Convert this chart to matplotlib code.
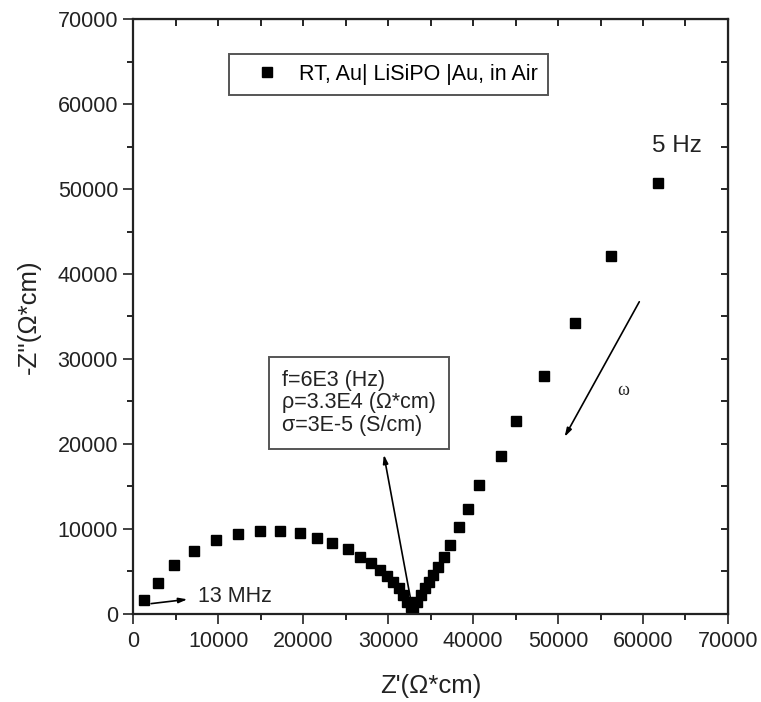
import matplotlib
matplotlib.use("Agg")
import matplotlib.pyplot as plt
from matplotlib.ticker import MultipleLocator

plt.rcParams['font.family'] = ['Liberation Sans', 'DejaVu Sans']

# Nyquist data (Z' and -Z'' in ohm*cm)
z_real = [1200, 2850, 4760, 7180, 9700, 12290, 14880, 17300, 19620, 21660,
          23420, 25240, 26690, 27940, 29040, 29900, 30600, 31240, 31780, 32250,
          32690, 32950, 33360, 33830, 34340, 34810, 35310, 35900, 36540, 37280,
          38300, 39430, 40730, 43240, 45010, 48300, 51990, 56190, 61720]
z_imag = [1590, 3680, 5730, 7410, 8670, 9450, 9760, 9760, 9470, 8910,
          8390, 7650, 6740, 5960, 5180, 4470, 3800, 3020, 2240, 1450,
          860, 700, 1450, 2240, 3020, 3800, 4590, 5560, 6710, 8120,
          10270, 12350, 15180, 18590, 22740, 28040, 34270, 42120, 50740]

legend_label = "RT, Au| LiSiPO |Au, in Air"
box_text = "f=6E3 (Hz)\n\u03c1=3.3E4 (\u03a9*cm)\n\u03c3=3E-5 (S/cm)"

fig = plt.figure(figsize=(7.61, 7.02), dpi=100)
ax = fig.add_axes([0.1752, 0.1254, 0.7814, 0.8475])

ax.plot(z_real, z_imag, 's', color='black', markersize=7, linestyle='none',
        label=legend_label)

ax.set_xlim(0, 70000)
ax.set_ylim(0, 70000)
ax.xaxis.set_major_locator(MultipleLocator(10000))
ax.yaxis.set_major_locator(MultipleLocator(10000))
ax.xaxis.set_minor_locator(MultipleLocator(5000))
ax.yaxis.set_minor_locator(MultipleLocator(5000))
ax.tick_params(which='major', direction='out', length=7, width=1.2,
               labelsize=15.5, colors='#222222')
ax.tick_params(which='minor', direction='out', length=4, width=1.2)
ax.tick_params(axis='x', pad=5)
ax.tick_params(axis='y', pad=4)
for s in ax.spines.values():
    s.set_linewidth(1.6)
    s.set_color('#222222')

# inward ticks on right and top
sec_y = ax.secondary_yaxis('right')
sec_y.yaxis.set_major_locator(MultipleLocator(5000))
sec_y.tick_params(direction='in', length=5, width=1.2, labelright=False)
sec_x = ax.secondary_xaxis('top')
sec_x.xaxis.set_major_locator(MultipleLocator(5000))
sec_x.tick_params(direction='in', length=5, width=1.2, labeltop=False)

ax.set_xlabel("Z'(\u03a9*cm)", fontsize=18.5, labelpad=16, color='#222222')
ax.set_ylabel("-Z''(\u03a9*cm)", fontsize=18.5, labelpad=12, color='#222222')

leg = ax.legend(loc='upper left', bbox_to_anchor=(0.1614, 0.941),
                borderaxespad=0, fontsize=15.5, fancybox=False,
                edgecolor='#555555', framealpha=1, handlelength=2.6,
                handletextpad=0.2, borderpad=0.45)
leg.get_frame().set_linewidth(1.4)

# annotation box with arrow to the minimum
ax.text(17540, 24860, box_text, fontsize=15.5, va='center', ha='left',
        linespacing=1.1, color='#222222',
        bbox=dict(boxstyle='square,pad=0.6', fc='white', ec='#555555', lw=1.4))
ax.annotate('', xy=(29430, 19060), xytext=(32800, 900),
            arrowprops=dict(arrowstyle='-|>,head_length=0.5,head_width=0.15',
                            color='black', lw=1.2))

# high-frequency label
ax.annotate('', xy=(6690, 1760), xytext=(1770, 1180),
            arrowprops=dict(arrowstyle='-|>,head_length=0.5,head_width=0.15',
                            color='black', lw=1.2))
ax.text(7640, 2000, "13 MHz", fontsize=15.5, va='center', ha='left', color='#222222')

# low-frequency label
ax.text(61000, 55100, "5 Hz", fontsize=17.5, va='center', ha='left', color='#222222')

# omega direction arrow
ax.annotate('', xy=(50610, 20550), xytext=(59720, 37020),
            arrowprops=dict(arrowstyle='-|>,head_length=0.5,head_width=0.15',
                            color='black', lw=1.2))
ax.text(57700, 26350, "\u03c9", fontsize=13, va='center', ha='center',
        family=['Liberation Serif', 'DejaVu Serif'], color='#222222')

fig.savefig("out.png", dpi=100)
